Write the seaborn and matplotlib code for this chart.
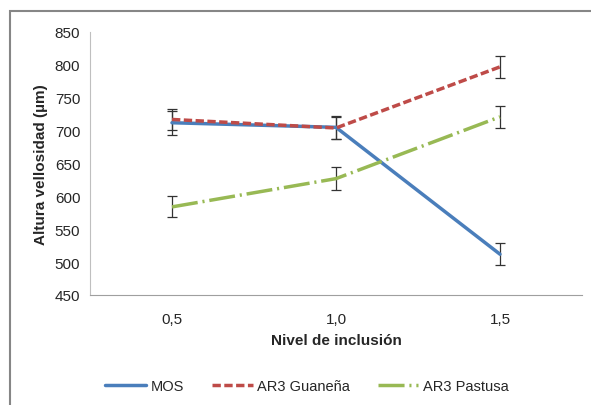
import matplotlib
matplotlib.use("Agg")
import matplotlib.pyplot as plt
import seaborn as sns
import numpy as np
from matplotlib.patches import Rectangle

categories = ["0,5", "1,0", "1,5"]
mos = [712, 705, 512]
mos_err = [18, 17, 17]
guanena = [717, 704, 797]
guanena_err = [16, 17, 17]
pastusa = [584, 627, 721]
pastusa_err = [16, 17, 17]
yticks = [450, 500, 550, 600, 650, 700, 750, 800, 850]

sns.set_theme(style="white")
plt.rcParams['font.family'] = ['Liberation Sans', 'DejaVu Sans']

fig = plt.figure(figsize=(5.91, 4.06), dpi=100)
ax = fig.add_axes([90/591, 1-296/406, (582-90)/591, (296-33)/406])

x = np.arange(len(categories))
series = [
    ("MOS", mos, mos_err, "#4A7EBB", (None, None)),
    ("AR3 Guaneña", guanena, guanena_err, "#BE4B48", (2.4, 1.0)),
    ("AR3 Pastusa", pastusa, pastusa_err, "#98B954", (7.5, 1.4, 0.6, 1.4)),
]
for name, vals, errs, col, dash in series:
    sns.lineplot(x=x, y=vals, ax=ax, color=col, linewidth=2.5, label=name)
    line = ax.lines[-1]
    if dash[0] is not None:
        line.set_dashes(dash)
    ax.errorbar(x, vals, yerr=errs, fmt="none", ecolor="#333333",
                elinewidth=0.9, capsize=3.5, capthick=0.9, zorder=1)

ax.set_xlim(-0.5, 2.5)
ax.set_ylim(450, 850)
ax.set_yticks(yticks)
ax.set_yticklabels([str(v) for v in yticks], fontsize=11)
ax.set_xticks(x)
ax.set_xticklabels(categories, fontsize=11)
ax.tick_params(axis="both", length=0, pad=7)
ax.tick_params(axis="x", pad=12)
for s in ["top", "right"]:
    ax.spines[s].set_visible(False)
ax.spines["left"].set_color("#BFBFBF")
ax.spines["bottom"].set_color("#9F9F9F")
ax.spines["left"].set_linewidth(0.8)
ax.spines["bottom"].set_linewidth(0.8)
ax.set_ylabel("Altura vellosidad (µm)", fontsize=11, fontweight="bold", labelpad=5)
ax.set_xlabel("Nivel de inclusión", fontsize=11, fontweight="bold", labelpad=5)

handles, labels = ax.get_legend_handles_labels()
fig.legend(handles, labels, loc="center", bbox_to_anchor=(307/591, 1-387/406),
           ncol=3, frameon=False, fontsize=10.5, handlelength=2.8,
           columnspacing=1.9, handletextpad=0.3)
if ax.get_legend():
    ax.get_legend().remove()

fig.patches.append(Rectangle((10/591, -0.1), 1.2, 1-12/406+0.1, transform=fig.transFigure,
                             fill=False, edgecolor="#868686", linewidth=1.5, zorder=0))

fig.savefig("out.png", dpi=100)
